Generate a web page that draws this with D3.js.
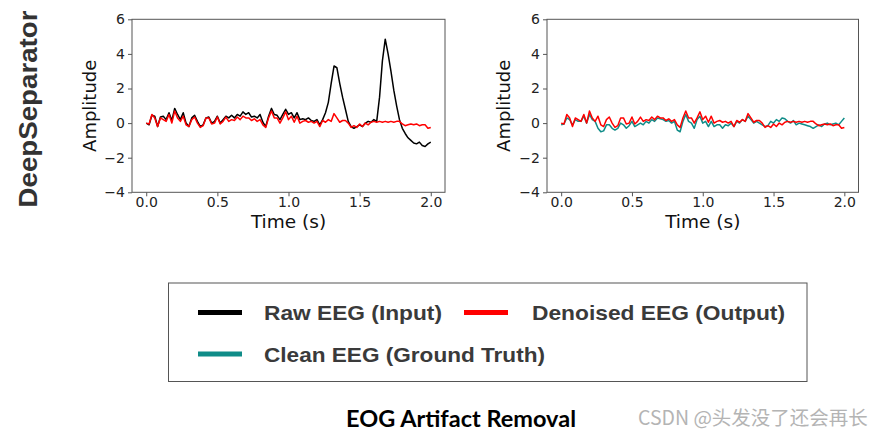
<!DOCTYPE html>
<html>
<head>
<meta charset="utf-8">
<script src="https://cdn.jsdelivr.net/npm/d3@7/dist/d3.min.js"></script>
<style>
  html, body { margin: 0; padding: 0; background: #fff; }
  svg { display: block; }
</style>
</head>
<body>
<svg id="chart" width="883" height="437"></svg>
<script>
// ---------- data ----------
const times = d3.range(0, 101).map(i => +(i * 0.02).toFixed(2)); // sample times 0.00 .. 2.00 s

const rawEEG = [
  0.0, -0.1, 0.45, 0.4, -0.2, 0.35, 0.4, 0.2, 0.6, 0.15,
  0.85, 0.5, 0.2, 0.6, 0.0, -0.2, 0.3, 0.45, 0.1, -0.2,
  -0.1, 0.3, 0.35, 0.0, 0.1, 0.4, 0.0, 0.2, 0.4, 0.3,
  0.45, 0.3, 0.5, 0.4, 0.65, 0.5, 0.6, 0.35, 0.4, 0.3,
  0.5, 0.05, -0.2, 0.4, 0.85, 0.5, 0.45, 0.2, 0.5, 0.8,
  0.5, 0.6, 0.3, 0.6, 0.2, 0.25, 0.2, 0.3, 0.15, 0.1,
  0.2, -0.1, 0.2, 0.6, 1.2, 2.3, 3.3, 3.2, 2.3, 1.5,
  0.8, 0.1, -0.2, -0.3, -0.2, -0.1, -0.2, 0.0, 0.1, 0.05,
  0.2, 0.1, 1.5, 3.6, 4.85, 4.0, 3.0, 1.9, 1.0, 0.2,
  -0.3, -0.6, -0.85, -1.0, -1.15, -1.2, -1.1, -1.3, -1.35, -1.2,
  -1.1
];

const denoisedEEG = [
  0.0, -0.05, 0.5, 0.3, -0.2, 0.3, 0.2, 0.1, 0.5, 0.0,
  0.7, 0.3, 0.1, 0.4, -0.1, -0.2, 0.2, 0.35, 0.0, -0.25,
  -0.15, 0.3, 0.3, -0.05, 0.0, 0.35, -0.05, 0.1, 0.35, 0.1,
  0.2, 0.15, 0.35, 0.2, 0.4, 0.3, 0.3, 0.15, 0.25, 0.1,
  0.2, -0.1, -0.25, 0.3, 0.7, 0.3, 0.3, 0.0, 0.3, 0.65,
  0.2, 0.4, 0.05, 0.4, 0.0, 0.1, 0.15, 0.05, 0.1, 0.0,
  0.1, -0.2, 0.15, 0.05, 0.2, 0.1, 0.55, 0.3, 0.05, 0.15,
  0.15, 0.0, -0.25, -0.15, -0.25, -0.05, -0.2, 0.0, -0.1, 0.05,
  0.1, 0.05, 0.1, 0.05, 0.1, 0.05, 0.1, 0.05, 0.1, 0.1,
  -0.05, -0.15, -0.1, -0.05, -0.1, -0.05, -0.15, -0.1, -0.1, -0.3,
  -0.25
];

const cleanEEG = [
  -0.1, -0.05, 0.3, 0.2, -0.1, 0.2, 0.1, 0.1, 0.4, 0.0,
  0.5, 0.2, 0.1, -0.3, -0.5, -0.45, -0.1, -0.1, -0.3, -0.4,
  -0.3, 0.0, -0.1, -0.3, -0.15, 0.1, -0.2, -0.1, 0.0, -0.1,
  0.1, 0.0, 0.2, 0.1, 0.3, 0.25, 0.2, 0.1, 0.15, 0.0,
  0.1, -0.4, -0.5, 0.1, 0.5, 0.1, 0.0, -0.3, 0.2, 0.4,
  0.0, 0.1, -0.2, 0.1, -0.2, -0.1, -0.1, -0.3, -0.1, -0.15,
  0.0, -0.2, 0.1, 0.0, 0.2, 0.1, 0.4, 0.2, 0.0, 0.1,
  0.0, -0.1, -0.2, -0.15, 0.1, 0.0, 0.2, 0.1, 0.3, 0.25,
  0.1, 0.0, 0.15, -0.1, 0.0, -0.05, -0.1, -0.15, -0.2, -0.3,
  -0.2, -0.1, -0.2, -0.05, 0.0, -0.1, -0.05, 0.0, -0.1, 0.1,
  0.3
];

const xTicks = [0.0, 0.5, 1.0, 1.5, 2.0];
const yTicks = [-4, -2, 0, 2, 4, 6];

const legendItems = [
  { label: "Raw EEG (Input)", color: "#000000" },
  { label: "Denoised EEG (Output)", color: "#ff0000" },
  { label: "Clean EEG (Ground Truth)", color: "#0f8c88" }
];

const rowTitle = "DeepSeparator";
const figTitle = "EOG Artifact Removal";
const watermark = "CSDN @头发没了还会再长";

// ---------- drawing ----------
const svg = d3.select("#chart");
const yScale = d3.scaleLinear().domain([-4, 6]).range([192.3, 19.3]);

function panel(x0, x1, series, labelX) {
  const xs = d3.scaleLinear().domain([-0.1, 2.1]).range([x0, x1]);
  const g = svg.append("g");

  const line = d3.line().x((d, i) => xs(times[i])).y(d => yScale(d));
  series.forEach(s => {
    g.append("path").datum(s.values)
      .attr("d", line)
      .attr("fill", "none")
      .attr("stroke", s.color)
      .attr("stroke-width", 1.5)
      .attr("stroke-linejoin", "round");
  });

  g.append("rect")
    .attr("x", x0).attr("y", yScale(6))
    .attr("width", x1 - x0).attr("height", yScale(-4) - yScale(6))
    .attr("fill", "none").attr("stroke", "#555").attr("stroke-width", 1);

  const xa = g.append("g").attr("transform", `translate(0,${yScale(-4)})`)
    .call(d3.axisBottom(xs).tickValues(xTicks).tickFormat(d3.format(".1f")).tickSize(4).tickPadding(1));
  xa.select(".domain").remove();
  xa.selectAll("line").attr("stroke", "#555");
  xa.selectAll("text").attr("font-family", "DejaVu Sans").attr("font-size", 14).attr("fill", "#222");

  const ya = g.append("g").attr("transform", `translate(${x0},0)`)
    .call(d3.axisLeft(yScale).tickValues(yTicks).tickFormat(d => d < 0 ? "\u2212" + Math.abs(d) : d).tickSize(4).tickPadding(3));
  ya.select(".domain").remove();
  ya.selectAll("line").attr("stroke", "#555");
  ya.selectAll("text").attr("font-family", "DejaVu Sans").attr("font-size", 14).attr("fill", "#222");

  g.append("text")
    .attr("transform", `translate(${labelX},${(yScale(6) + yScale(-4)) / 2}) rotate(-90)`)
    .attr("text-anchor", "middle")
    .attr("font-family", "DejaVu Sans").attr("font-size", 18).attr("fill", "#111")
    .text("Amplitude");
  g.append("text")
    .attr("x", (x0 + x1) / 2).attr("y", 228)
    .attr("text-anchor", "middle")
    .attr("font-family", "DejaVu Sans").attr("font-size", 18.5).attr("fill", "#111")
    .text("Time (s)");
}

panel(132, 445, [
  { values: rawEEG, color: legendItems[0].color },
  { values: denoisedEEG, color: legendItems[1].color }
], 96);

panel(547, 858.5, [
  { values: cleanEEG, color: legendItems[2].color },
  { values: denoisedEEG, color: legendItems[1].color }
], 510);

// row title
svg.append("text")
  .attr("transform", "translate(37,109) rotate(-90)")
  .attr("text-anchor", "middle")
  .attr("font-family", "Liberation Sans, Arial, sans-serif")
  .attr("font-weight", "bold").attr("font-size", 26).attr("fill", "#333")
  .attr("textLength", 197).attr("lengthAdjust", "spacingAndGlyphs")
  .text(rowTitle);

// legend
const lg = svg.append("g");
lg.append("rect").attr("x", 168.5).attr("y", 283).attr("width", 638.5).attr("height", 98.5)
  .attr("fill", "#fff").attr("stroke", "#555").attr("stroke-width", 1);
const legendPos = [
  { lx: 198, tx: 264, y: 312.5, w: 178 },
  { lx: 464, tx: 532, y: 312.5, w: 253 },
  { lx: 198, tx: 264, y: 354, w: 281 }
];
legendItems.forEach((it, i) => {
  const p = legendPos[i];
  lg.append("line").attr("x1", p.lx).attr("x2", p.lx + 44).attr("y1", p.y).attr("y2", p.y)
    .attr("stroke", it.color).attr("stroke-width", 5);
  lg.append("text").attr("x", p.tx).attr("y", p.y + 7.5)
    .attr("font-family", "Liberation Sans, Arial, sans-serif").attr("font-weight", "bold")
    .attr("font-size", 20.5).attr("fill", "#3a3a3a")
    .attr("textLength", p.w).attr("lengthAdjust", "spacingAndGlyphs")
    .text(it.label);
});

// figure title
svg.append("text").attr("x", 461).attr("y", 427)
  .attr("text-anchor", "middle")
  .attr("font-family", "Lato, sans-serif").attr("font-weight", "bold")
  .attr("font-size", 23.5).attr("fill", "#000")
  .text(figTitle);

// watermark
svg.append("text").attr("x", 638).attr("y", 425)
  .attr("font-family", "Noto Sans CJK SC, sans-serif")
  .attr("font-size", 19.5).attr("fill", "#b4b4b4")
  .text(watermark);
</script>
</body>
</html>
